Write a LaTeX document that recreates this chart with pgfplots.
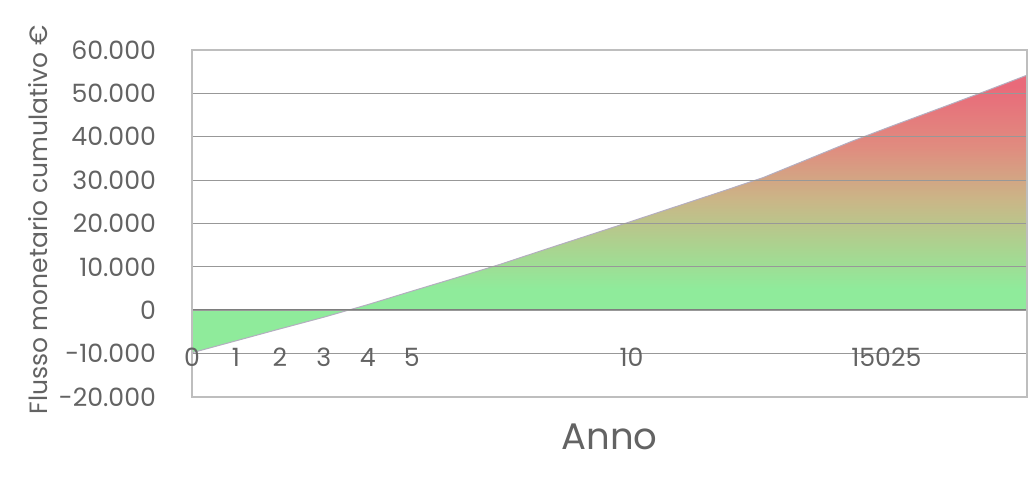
\documentclass[border=0pt]{standalone}
\usepackage{fontspec}
\setmainfont{Poppins}
\usepackage{pgfplots}
\pgfplotsset{compat=1.18}

\definecolor{txt}{HTML}{636363}
\definecolor{gridc}{HTML}{989898}
\definecolor{framec}{HTML}{BEBEBE}
\definecolor{zeroc}{HTML}{7E7E7E}
\definecolor{edgec}{HTML}{B4AEC0}
\definecolor{fgreen}{RGB}{143,235,155}
\definecolor{fmidA}{RGB}{172,210,143}
\definecolor{fmidB}{RGB}{202,182,135}
\definecolor{fmidC}{RGB}{224,140,127}
\definecolor{fred}{RGB}{233,106,122}

% vertical colour ramp for the cumulative area (path box maps to 25bp..75bp)
\pgfdeclareverticalshading{cashflow}{100bp}{%
  color(0bp)=(fgreen); color(36.5bp)=(fgreen); color(44.5bp)=(fmidA);
  color(52.5bp)=(fmidB); color(62bp)=(fmidC); color(73bp)=(fred);
  color(100bp)=(fred)}

% cumulative cash flow per year (EUR)
\pgfplotstableread{
anno flusso
0  -9800
1  -7050
2  -4300
3  -1600
4   1300
5   4400
6   7450
7  10550
8  13900
9  17200
10 20500
11 23850
12 27200
13 30600
14 34750
15 38900
16 42750
17 46500
18 50300
19 54200
}\flussodata

\begin{document}
\begin{tikzpicture}
\begin{axis}[
  scale only axis, width=417.5pt, height=173.5pt,
  at={(0,0)}, anchor=south west,
  xmin=0, xmax=19, ymin=-20000, ymax=60000,
  xtick={0,1,2,3,4,5,10,15.8},
  xticklabels={0,1,2,3,4,5,10,15025},
  ytick={-20000,-10000,...,60000},
  yticklabels={-20.000,-10.000,0,10.000,20.000,30.000,40.000,50.000,60.000},
  scaled y ticks=false,
  ymajorgrids, xmajorgrids=false,
  major grid style={gridc, line width=0.6pt},
  major tick length=0pt,
  axis line style={framec, line width=0.6pt},
  axis on top,
  tick label style={font=\fontsize{12.6}{14}\selectfont, text=txt},
  x tick label style={anchor=center, yshift=20pt},
  y tick label style={anchor=east, xshift=-14.5pt},
  xlabel={Anno},
  xlabel style={font=\fontsize{18.5}{20}\selectfont, text=txt,
    at={(axis description cs:0.5,-0.115)}, anchor=center},
  ylabel={Flusso monetario cumulativo €},
  ylabel style={font=\fontsize{12.5}{14}\selectfont, text=txt,
    at={(axis description cs:-0.184,0.51)}, anchor=center},
]
  \addplot[draw=none, shade, shading=cashflow] table[x=anno, y=flusso] {\flussodata} \closedcycle;
  \addplot[edgec, line width=0.5pt] table[x=anno, y=flusso] {\flussodata};
  \addplot[zeroc, line width=1pt] coordinates {(0,0) (19,0)};
\end{axis}
\path (-96pt,-40pt) rectangle (421pt,198.5pt);
\end{tikzpicture}
\end{document}
